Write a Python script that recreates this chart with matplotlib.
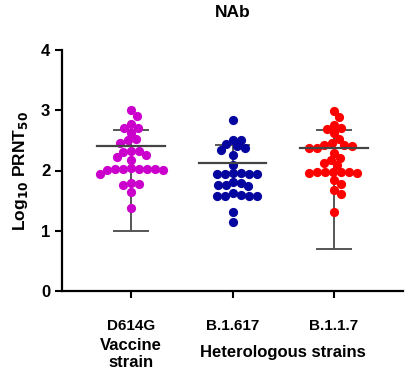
import numpy as np
import matplotlib
matplotlib.use("Agg")
import matplotlib.pyplot as plt

plt.rcParams['font.family'] = ['Liberation Sans', 'DejaVu Sans']
plt.rcParams['font.weight'] = 'bold'

strains = ["D614G", "B.1.617", "B.1.1.7"]
colors = ["#CC00CC", "#0505A0", "#FF0000"]

d614g = [3.00, 2.91, 2.77, 2.71, 2.70, 2.62, 2.52, 2.50, 2.46, 2.33, 2.32, 2.31,
         2.26, 2.23, 2.17, 2.04, 2.03, 2.02, 2.02, 2.01, 2.01, 2.02, 2.03, 1.95,
         1.80, 1.78, 1.76, 1.65, 1.38]
b1617 = [2.84, 2.51, 2.44, 2.51, 2.37, 2.40, 2.34, 2.25, 2.09, 1.95, 1.96,
         1.95, 1.94, 1.96, 1.95, 1.81, 1.80, 1.76, 1.75, 1.76, 1.62, 1.60,
         1.57, 1.58, 1.58, 1.57, 1.31, 1.15]
b117 = [2.99, 2.89, 2.71, 2.69, 2.76, 2.62, 2.52, 2.46, 2.43, 2.37, 2.38, 2.40,
        2.42, 2.29, 2.21, 2.17, 2.09, 2.12, 1.97, 1.98, 1.96, 1.97, 1.98, 1.96,
        1.97, 1.84, 1.78, 1.67, 1.61, 1.31]
groups = [d614g, b1617, b117]

means = [2.40, 2.12, 2.38]
upper = [2.68, 2.42, 2.67]
lower = [1.00, None, 0.70]

fig = plt.figure(figsize=(4.16, 3.74), dpi=100)
ax = fig.add_axes([62 / 416, 1 - 291 / 374, (403 - 62) / 416, (291 - 50) / 374])
ax.set_xlim(-0.68, 2.68)
ax.set_ylim(0, 4)

# simple beeswarm in pixel space
xs_per_unit = (403 - 62) / 3.36
ys_per_unit = (291 - 50) / 4.0
diam = 7.6


def swarm(vals):
    order = np.argsort(vals)[::-1]
    placed = []
    offs = np.zeros(len(vals))
    for i in order:
        y = vals[i] * ys_per_unit
        for k in range(0, 80):
            cands = [0.0] if k == 0 else [k * 1.0, -k * 1.0]
            done = False
            for c in cands:
                if all((c - px) ** 2 + (y - py) ** 2 >= diam ** 2 for px, py in placed):
                    offs[i] = c
                    placed.append((c, y))
                    done = True
                    break
            if done:
                break
    return offs / xs_per_unit


for i, vals in enumerate(groups):
    vals = np.array(vals)
    ax.scatter(i + swarm(vals), vals, s=44, color=colors[i], zorder=3, linewidths=0)
    ax.plot([i - 0.335, i + 0.335], [means[i], means[i]], color="#444444", lw=1.6, zorder=4)
    lo = lower[i] if lower[i] is not None else means[i]
    ax.plot([i, i], [lo, upper[i]], color="#555555", lw=1.4, zorder=2)
    ax.plot([i - 0.165, i + 0.165], [upper[i], upper[i]], color="#555555", lw=1.4, zorder=2)
    if lower[i] is not None:
        ax.plot([i - 0.165, i + 0.165], [lower[i], lower[i]], color="#555555", lw=1.4, zorder=2)

for s in ["top", "right"]:
    ax.spines[s].set_visible(False)
for s in ["left", "bottom"]:
    ax.spines[s].set_linewidth(1.6)
ax.set_yticks([0, 1, 2, 3, 4])
ax.set_xticks(range(3))
ax.set_xticklabels(strains, fontsize=11, fontweight="bold")
ax.tick_params(axis="y", labelsize=12, width=1.5, length=5)
ax.tick_params(axis="x", width=1.5, length=5, pad=15)
for t in ax.get_yticklabels():
    t.set_fontweight("bold")

ax.set_ylabel("Log$_{\\mathbf{10}}$ PRNT$_{\\mathbf{50}}$", fontsize=12.5, fontweight="bold", labelpad=8)
ax.set_title("NAb", fontsize=12.5, fontweight="bold", pad=24)

fig.text(131 / 416, 1 - 354 / 374, "Vaccine\nstrain", ha="center", va="center",
         fontsize=12, fontweight="bold", linespacing=1.2)
fig.text(283 / 416, 1 - 352 / 374, "Heterologous strains", ha="center", va="center",
         fontsize=12, fontweight="bold")

fig.savefig("out.png", dpi=100)
